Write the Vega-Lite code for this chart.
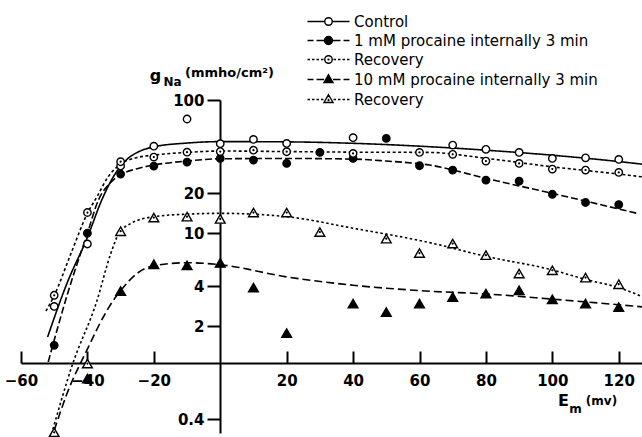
{
  "$schema": "https://vega.github.io/schema/vega-lite/v6.json",
  "width": 621,
  "height": 333,
  "autosize": "none",
  "padding": {"left": 21, "top": 100, "right": 0, "bottom": 4},
  "background": "white",
  "config": {
    "view": {"stroke": null},
    "font": "DejaVu Sans",
    "axis": {"grid": false, "domainColor": "black", "tickColor": "black", "labelColor": "black", "titleColor": "black"}
  },
  "title": {"text": "8-6-65", "anchor": "start", "frame": "group", "dx": 67, "offset": 13, "fontSize": 15, "font": "DejaVu Sans", "fontWeight": "bold", "color": "black"},
  "datasets": {
    "points": [
      {"series": "Control", "mv": -50, "g": 2.82}, {"series": "Control", "mv": -40, "g": 8.3}, {"series": "Control", "mv": -30, "g": 32}, {"series": "Control", "mv": -20, "g": 45}, {"series": "Control", "mv": -10, "g": 72}, {"series": "Control", "mv": 0, "g": 47}, {"series": "Control", "mv": 10, "g": 50.6}, {"series": "Control", "mv": 20, "g": 47.2}, {"series": "Control", "mv": 40, "g": 52.1}, {"series": "Control", "mv": 70, "g": 45.9}, {"series": "Control", "mv": 80, "g": 42.6}, {"series": "Control", "mv": 90, "g": 40.4}, {"series": "Control", "mv": 100, "g": 36.4}, {"series": "Control", "mv": 110, "g": 36.8}, {"series": "Control", "mv": 120, "g": 35.8},
      {"series": "P1", "mv": -50, "g": 1.44}, {"series": "P1", "mv": -40, "g": 10.0}, {"series": "P1", "mv": -30, "g": 27.8}, {"series": "P1", "mv": -20, "g": 31.9}, {"series": "P1", "mv": -10, "g": 34.2}, {"series": "P1", "mv": 0, "g": 36.4}, {"series": "P1", "mv": 10, "g": 35.4}, {"series": "P1", "mv": 20, "g": 33.4}, {"series": "P1", "mv": 30, "g": 40.4}, {"series": "P1", "mv": 40, "g": 36.4}, {"series": "P1", "mv": 50, "g": 51.5}, {"series": "P1", "mv": 60, "g": 32.1}, {"series": "P1", "mv": 70, "g": 29.8}, {"series": "P1", "mv": 80, "g": 25.0}, {"series": "P1", "mv": 90, "g": 24.6}, {"series": "P1", "mv": 100, "g": 19.6}, {"series": "P1", "mv": 110, "g": 17.0}, {"series": "P1", "mv": 120, "g": 16.4},
      {"series": "R1", "mv": -50, "g": 3.42}, {"series": "R1", "mv": -40, "g": 14.3}, {"series": "R1", "mv": -30, "g": 34.4}, {"series": "R1", "mv": -20, "g": 37.3}, {"series": "R1", "mv": -10, "g": 40.6}, {"series": "R1", "mv": 0, "g": 41}, {"series": "R1", "mv": 10, "g": 42}, {"series": "R1", "mv": 20, "g": 40.9}, {"series": "R1", "mv": 40, "g": 39.7}, {"series": "R1", "mv": 60, "g": 40.4}, {"series": "R1", "mv": 70, "g": 39.1}, {"series": "R1", "mv": 80, "g": 34.8}, {"series": "R1", "mv": 90, "g": 33.4}, {"series": "R1", "mv": 100, "g": 30.3}, {"series": "R1", "mv": 110, "g": 29.8}, {"series": "R1", "mv": 120, "g": 28.6},
      {"series": "P10", "mv": -40, "g": 0.81}, {"series": "P10", "mv": -30, "g": 3.68}, {"series": "P10", "mv": -20, "g": 5.85}, {"series": "P10", "mv": -10, "g": 5.74}, {"series": "P10", "mv": 0, "g": 5.98}, {"series": "P10", "mv": 10, "g": 3.91}, {"series": "P10", "mv": 20, "g": 1.78}, {"series": "P10", "mv": 40, "g": 2.96}, {"series": "P10", "mv": 50, "g": 2.56}, {"series": "P10", "mv": 60, "g": 2.96}, {"series": "P10", "mv": 70, "g": 3.32}, {"series": "P10", "mv": 80, "g": 3.52}, {"series": "P10", "mv": 90, "g": 3.73}, {"series": "P10", "mv": 100, "g": 3.19}, {"series": "P10", "mv": 110, "g": 2.96}, {"series": "P10", "mv": 120, "g": 2.79},
      {"series": "R10", "mv": -50, "g": 0.32}, {"series": "R10", "mv": -40, "g": 1.05}, {"series": "R10", "mv": -30, "g": 10.35}, {"series": "R10", "mv": -20, "g": 13.1}, {"series": "R10", "mv": -10, "g": 13.3}, {"series": "R10", "mv": 0, "g": 12.8}, {"series": "R10", "mv": 10, "g": 14.3}, {"series": "R10", "mv": 20, "g": 14.3}, {"series": "R10", "mv": 30, "g": 10.2}, {"series": "R10", "mv": 50, "g": 9.1}, {"series": "R10", "mv": 60, "g": 7.1}, {"series": "R10", "mv": 70, "g": 8.36}, {"series": "R10", "mv": 80, "g": 6.84}, {"series": "R10", "mv": 90, "g": 4.98}, {"series": "R10", "mv": 100, "g": 5.27}, {"series": "R10", "mv": 110, "g": 4.64}, {"series": "R10", "mv": 120, "g": 4.14}
    ],
    "curves": [
      {"series": "Control", "mv": -52, "g": 1.66}, {"series": "Control", "mv": -46, "g": 4.3}, {"series": "Control", "mv": -40, "g": 9.3}, {"series": "Control", "mv": -35.7, "g": 17.7}, {"series": "Control", "mv": -32, "g": 27}, {"series": "Control", "mv": -28, "g": 36}, {"series": "Control", "mv": -24, "g": 41.5}, {"series": "Control", "mv": -20, "g": 44.5}, {"series": "Control", "mv": -10, "g": 47.5}, {"series": "Control", "mv": 0, "g": 48.7}, {"series": "Control", "mv": 20, "g": 48.5}, {"series": "Control", "mv": 40, "g": 47.3}, {"series": "Control", "mv": 63, "g": 44.6}, {"series": "Control", "mv": 80, "g": 42}, {"series": "Control", "mv": 100, "g": 38.5}, {"series": "Control", "mv": 120, "g": 34.5}, {"series": "Control", "mv": 127, "g": 33},
      {"series": "P1", "mv": -51.8, "g": 1.08}, {"series": "P1", "mv": -46, "g": 3.5}, {"series": "P1", "mv": -40, "g": 10}, {"series": "P1", "mv": -36.7, "g": 17.7}, {"series": "P1", "mv": -33, "g": 24}, {"series": "P1", "mv": -30, "g": 27.5}, {"series": "P1", "mv": -25, "g": 30.5}, {"series": "P1", "mv": -20, "g": 32.5}, {"series": "P1", "mv": -10, "g": 34.8}, {"series": "P1", "mv": 0, "g": 36.2}, {"series": "P1", "mv": 20, "g": 36.4}, {"series": "P1", "mv": 40, "g": 36}, {"series": "P1", "mv": 50, "g": 34.8}, {"series": "P1", "mv": 63, "g": 32.5}, {"series": "P1", "mv": 80, "g": 25.8}, {"series": "P1", "mv": 100, "g": 19.9}, {"series": "P1", "mv": 120, "g": 15.2}, {"series": "P1", "mv": 126, "g": 14.0},
      {"series": "R1", "mv": -52.5, "g": 2.6}, {"series": "R1", "mv": -50, "g": 3.4}, {"series": "R1", "mv": -45, "g": 7}, {"series": "R1", "mv": -40, "g": 14.1}, {"series": "R1", "mv": -37, "g": 19}, {"series": "R1", "mv": -34, "g": 26}, {"series": "R1", "mv": -30, "g": 33}, {"series": "R1", "mv": -25, "g": 37}, {"series": "R1", "mv": -20, "g": 38.6}, {"series": "R1", "mv": -10, "g": 40.4}, {"series": "R1", "mv": 0, "g": 41.4}, {"series": "R1", "mv": 20, "g": 41}, {"series": "R1", "mv": 40, "g": 40.6}, {"series": "R1", "mv": 63, "g": 40.4}, {"series": "R1", "mv": 80, "g": 36.5}, {"series": "R1", "mv": 100, "g": 31.5}, {"series": "R1", "mv": 120, "g": 27.8}, {"series": "R1", "mv": 127, "g": 26.5},
      {"series": "P10", "mv": -50, "g": 0.33}, {"series": "P10", "mv": -46.2, "g": 0.62}, {"series": "P10", "mv": -40, "g": 1.35}, {"series": "P10", "mv": -35, "g": 2.4}, {"series": "P10", "mv": -32.2, "g": 3.13}, {"series": "P10", "mv": -30, "g": 3.7}, {"series": "P10", "mv": -25, "g": 5.0}, {"series": "P10", "mv": -20, "g": 5.7}, {"series": "P10", "mv": -10, "g": 6.0}, {"series": "P10", "mv": 0, "g": 5.8}, {"series": "P10", "mv": 20, "g": 4.7}, {"series": "P10", "mv": 40, "g": 4.07}, {"series": "P10", "mv": 63, "g": 3.67}, {"series": "P10", "mv": 80, "g": 3.5}, {"series": "P10", "mv": 100, "g": 3.2}, {"series": "P10", "mv": 127, "g": 2.8},
      {"series": "R10", "mv": -50.8, "g": 0.31}, {"series": "R10", "mv": -44.7, "g": 1.0}, {"series": "R10", "mv": -37.1, "g": 3.13}, {"series": "R10", "mv": -33, "g": 7}, {"series": "R10", "mv": -30.5, "g": 10}, {"series": "R10", "mv": -27, "g": 11.8}, {"series": "R10", "mv": -20, "g": 13.3}, {"series": "R10", "mv": -10, "g": 13.9}, {"series": "R10", "mv": 0, "g": 14.1}, {"series": "R10", "mv": 20, "g": 13.3}, {"series": "R10", "mv": 40, "g": 10.9}, {"series": "R10", "mv": 63, "g": 8.5}, {"series": "R10", "mv": 80, "g": 6.7}, {"series": "R10", "mv": 100, "g": 5.3}, {"series": "R10", "mv": 110, "g": 4.5}, {"series": "R10", "mv": 120, "g": 3.9}, {"series": "R10", "mv": 127, "g": 3.35}
    ]
  },
  "resolve": {"scale": {"x": "independent", "y": "independent"}},
  "layer": [
    {
      "data": {"name": "curves"},
      "mark": {"type": "line", "interpolate": "monotone", "stroke": "black", "strokeWidth": 1.6, "clip": false},
      "encoding": {
        "x": {"field": "mv", "type": "quantitative",
          "scale": {"domain": [-60, 127], "nice": false, "zero": false},
          "axis": {"orient": "bottom", "offset": -70, "values": [-60, -40, -20, 20, 40, 60, 80, 100, 120],
            "tickSize": -12, "tickWidth": 2, "domainWidth": 2, "labelFontSize": 15, "labelFontWeight": "bold", "labelPadding": 22, "labelFlush": false, "labelOverlap": false,
            "encode": {"labels": {"update": {"dy": {"signal": "datum.value == -40 ? 15 : 0"}}}, "ticks": {"update": {"opacity": {"signal": "datum.value == -40 ? 0 : 1"}}}},
            "title": "(mv)", "titleX": 580, "titleY": 37, "titleAngle": 0, "titleAlign": "center", "titleBaseline": "middle", "titleFontSize": 12, "titleFontWeight": "bold"}},
        "y": {"field": "g", "type": "quantitative",
          "scale": {"type": "log", "domain": [0.3162, 100], "nice": false},
          "axis": {"orient": "left", "offset": -199, "values": [0.4, 2, 4, 10, 20, 100], "format": "~g",
            "tickSize": 13, "tickWidth": 2, "domainWidth": 2, "labelFontSize": 15, "labelFontWeight": "bold", "labelPadding": 3, "labelOverlap": false,
            "title": "(mmho/cm²)", "titleX": 9, "titleY": -28, "titleAngle": 0, "titleAlign": "center", "titleBaseline": "middle", "titleFontSize": 13, "titleFontWeight": "bold"}},
        "detail": {"field": "series", "type": "nominal"},
        "strokeDash": {"condition": [
            {"test": "datum.series == 'P1'", "value": [7, 3]},
            {"test": "datum.series == 'R1'", "value": [3, 2.5]},
            {"test": "datum.series == 'P10'", "value": [8, 4]},
            {"test": "datum.series == 'R10'", "value": [2.5, 2.5]}
          ], "value": [1, 0]}
      }
    },
    {
      "data": {"name": "points"},
      "mark": {"type": "point", "filled": true, "stroke": "black", "strokeWidth": 1.4, "opacity": 1, "clip": false},
      "encoding": {
        "x": {"field": "mv", "type": "quantitative",
          "scale": {"domain": [-60, 127], "nice": false, "zero": false},
          "axis": {"orient": "bottom", "offset": -70, "domain": false, "ticks": false, "labels": false,
            "title": "E", "titleX": 542, "titleY": 37, "titleAngle": 0, "titleAlign": "center", "titleBaseline": "middle", "titleFontSize": 16, "titleFontWeight": "bold"}},
        "y": {"field": "g", "type": "quantitative",
          "scale": {"type": "log", "domain": [0.3162, 100], "nice": false},
          "axis": {"orient": "left", "offset": -199, "domain": false, "ticks": false, "labels": false,
            "title": "g", "titleX": -65, "titleY": -25, "titleAngle": 0, "titleAlign": "center", "titleBaseline": "middle", "titleFontSize": 16, "titleFontWeight": "bold"}},
        "shape": {"condition": {"test": "datum.series == 'P10' || datum.series == 'R10'", "value": "triangle-up"}, "value": "circle"},
        "fill": {"condition": {"test": "datum.series == 'P1' || datum.series == 'P10'", "value": "black"}, "value": "white"},
        "size": {"condition": {"test": "datum.series == 'P10' || datum.series == 'R10'", "value": 95}, "value": 55}
      }
    },
    {
      "data": {"name": "points"},
      "transform": [{"filter": "datum.series == 'R1' || datum.series == 'R10'"}],
      "mark": {"type": "point", "shape": "circle", "filled": true, "fill": "black", "size": 5, "opacity": 1, "clip": false},
      "encoding": {
        "x": {"field": "mv", "type": "quantitative",
          "scale": {"domain": [-60, 127], "nice": false, "zero": false},
          "axis": {"orient": "bottom", "offset": -70, "domain": false, "ticks": false, "labels": false,
            "title": "m", "titleX": 554, "titleY": 45, "titleAngle": 0, "titleAlign": "center", "titleBaseline": "middle", "titleFontSize": 12, "titleFontWeight": "bold"}},
        "y": {"field": "g", "type": "quantitative",
          "scale": {"type": "log", "domain": [0.3162, 100], "nice": false},
          "axis": {"orient": "left", "offset": -199, "domain": false, "ticks": false, "labels": false,
            "title": "Na", "titleX": -48, "titleY": -19, "titleAngle": 0, "titleAlign": "center", "titleBaseline": "middle", "titleFontSize": 12, "titleFontWeight": "bold"}}
      }
    },
    {
      "data": {"name": "points"},
      "transform": [{"filter": "false"}],
      "mark": {"type": "point", "filled": true, "strokeWidth": 1.4, "opacity": 1, "size": 100},
      "encoding": {
        "x": {"field": "mv", "type": "quantitative", "scale": {"domain": [-60, 127], "nice": false, "zero": false}, "axis": null},
        "y": {"field": "g", "type": "quantitative", "scale": {"type": "log", "domain": [0.3162, 100], "nice": false}, "axis": null},
        "shape": {"field": "series", "type": "nominal",
          "scale": {"domain": ["Control", "P1", "R1", "P10", "R10"], "range": [
            "M-4.2,0L-0.75,0M0.75,0L4.2,0M-0.75,0A0.75,0.75,0,1,1,0.75,0A0.75,0.75,0,1,1,-0.75,0Z",
            "M-4.2,0L-3,0M-2.4,0L-0.8,0M0.8,0L2.4,0M3,0L4.2,0M-0.8,0A0.8,0.8,0,1,1,0.8,0A0.8,0.8,0,1,1,-0.8,0Z",
            "M-4.2,0L-3.7,0M-3.3,0L-2.8,0M-2.4,0L-1.9,0M-1.5,0L-1,0M1,0L1.5,0M1.9,0L2.4,0M2.8,0L3.3,0M3.7,0L4.2,0M-0.75,0A0.75,0.75,0,1,1,0.75,0A0.75,0.75,0,1,1,-0.75,0ZM-0.2,0L0.2,0M0,-0.2L0,0.2",
            "M-4.2,0L-3,0M-2.4,0L-0.9,0M0.9,0L2.4,0M3,0L4.2,0M0,-0.95L0.9,0.6L-0.9,0.6Z",
            "M-4.2,0L-3.7,0M-3.3,0L-2.8,0M-2.4,0L-1.9,0M-1.5,0L-1,0M1,0L1.5,0M1.9,0L2.4,0M2.8,0L3.3,0M3.7,0L4.2,0M0,-0.95L0.9,0.6L-0.9,0.6ZM-0.2,0.2L0.2,0.2M0,-0.15L0,0.3"
          ]},
          "legend": {"orient": "none", "legendX": 300, "legendY": -86, "title": null, "padding": 0, "symbolSize": 100, "rowPadding": 3, "labelOffset": 18, "labelLimit": 400,
            "labelFont": "DejaVu Sans", "labelFontSize": 15, "labelColor": "black", "symbolStrokeWidth": 1.4, "symbolOpacity": 1,
            "labelExpr": "datum.value == 'Control' ? 'Control' : datum.value == 'P1' ? '1 mM procaine internally 3 min' : datum.value == 'P10' ? '10 mM procaine internally 3 min' : 'Recovery'"}},
        "fill": {"field": "series", "type": "nominal",
          "scale": {"domain": ["Control", "P1", "R1", "P10", "R10"], "range": ["white", "black", "white", "black", "white"]},
          "legend": {"orient": "none", "legendX": 300, "legendY": -86, "title": null, "padding": 0, "symbolSize": 100, "rowPadding": 3, "labelOffset": 18, "labelLimit": 400,
            "labelFont": "DejaVu Sans", "labelFontSize": 15, "labelColor": "black", "symbolStrokeWidth": 1.4, "symbolOpacity": 1,
            "labelExpr": "datum.value == 'Control' ? 'Control' : datum.value == 'P1' ? '1 mM procaine internally 3 min' : datum.value == 'P10' ? '10 mM procaine internally 3 min' : 'Recovery'"}},
        "stroke": {"field": "series", "type": "nominal",
          "scale": {"domain": ["Control", "P1", "R1", "P10", "R10"], "range": ["black", "black", "black", "black", "black"]},
          "legend": {"orient": "none", "legendX": 300, "legendY": -86, "title": null, "padding": 0, "symbolSize": 100, "rowPadding": 3, "labelOffset": 18, "labelLimit": 400,
            "labelFont": "DejaVu Sans", "labelFontSize": 15, "labelColor": "black", "symbolStrokeWidth": 1.4, "symbolOpacity": 1,
            "labelExpr": "datum.value == 'Control' ? 'Control' : datum.value == 'P1' ? '1 mM procaine internally 3 min' : datum.value == 'P10' ? '10 mM procaine internally 3 min' : 'Recovery'"}}
      }
    }
  ]
}
